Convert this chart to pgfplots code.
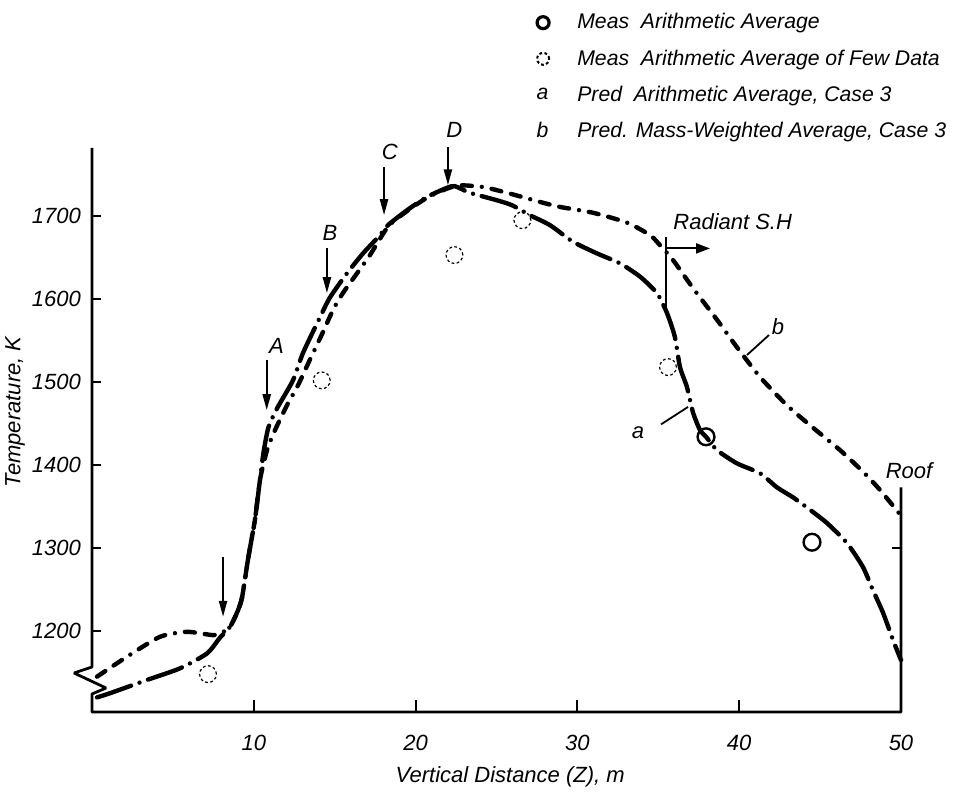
\documentclass[border=0pt]{standalone}
\usepackage{fontspec}
\setmainfont{Liberation Sans}
\usepackage{pgfplots}
\pgfplotsset{compat=1.18}
\usetikzlibrary{arrows.meta}
\begin{document}
\begin{tikzpicture}[font=\fontsize{11}{13}\selectfont\itshape]
\useasboundingbox (-46pt,-43pt) rectangle (431pt,356pt);
\begin{axis}[
  at={(0,0)}, anchor=south west,
  scale only axis, width=404.5pt, height=282pt,
  xmin=0, xmax=50, ymin=1102.4, ymax=1782,
  enlargelimits=false,
  separate axis lines,
  axis line style={draw=none},
  xtick pos=bottom, ytick pos=left,
  clip=false,
  xtick={10,20,30,40,50}, ytick={1200,1300,...,1700},
  tick align=inside,
  xtick style={black, line width=1pt, /pgfplots/major tick length=6pt},
  ytick style={black, line width=1pt, /pgfplots/major tick length=4.5pt},
  /pgf/number format/assume math mode=true,
  /pgf/number format/set thousands separator={},
  ticklabel style={font=\fontsize{11}{13}\selectfont\itshape},
  xticklabel style={yshift=-8pt},
  yticklabel style={xshift=-2pt},
  xlabel={Vertical Distance (Z), m},
  ylabel={Temperature, K},
  xlabel style={at={(axis description cs:0.517,-0.1152)}, anchor=center, font=\fontsize{11}{13}\selectfont\itshape},
  ylabel style={at={(axis description cs:-0.0952,0.532)}, anchor=center, font=\fontsize{11}{13}\selectfont\itshape},
  legend style={draw=none, fill=none, at={(axis description cs:0.5371,1.2463)}, anchor=north west,
    legend cell align=left, row sep=4.9pt, inner sep=0pt, font=\fontsize{10.6}{12.6}\selectfont\itshape,
    /tikz/every odd column/.append style={column sep=6pt}},
]
% measured arithmetic average
\addplot[only marks, mark=o, mark size=4.2pt, mark options={line width=1.2pt, black},
  legend image code/.code={\path (-7pt,0) (8pt,0); \draw[line width=1.6pt] (0cm,0) circle (3pt);}]
  coordinates {(37.95,1434) (44.5,1307)};
\addlegendentry{Meas\ \ Arithmetic Average}
% measured, few data
\addplot[only marks, mark=o, mark size=4.2pt, mark options={line width=0.6pt, black, dash pattern=on 1.4pt off 1.2pt},
  legend image code/.code={\path (-7pt,0) (8pt,0); \draw[line width=1pt, dash pattern=on 1.4pt off 1.2pt] (0cm,0) circle (3pt);}]
  coordinates {(7.17,1148) (14.2,1502) (22.4,1653) (26.6,1695) (35.6,1518)};
\addlegendentry{Meas\ \ Arithmetic Average of Few Data}
% curve a
\addplot[black, line width=2.2pt, line cap=round, smooth, tension=0.4,
  dash pattern=on 18pt off 4.5pt on 0pt off 4.5pt,
  legend image code/.code={\path (-7pt,0) (8pt,0); \node[inner sep=0pt, font=\fontsize{10.6}{12.6}\selectfont\itshape] at (-4.3pt,0) {a};}]
  coordinates {(0.31,1120) (1.11,1125) (3.40,1141) (5.44,1155) (7.11,1173) (7.91,1192) (8.53,1205) (8.96,1222) (9.27,1240) (9.64,1286) (10.07,1334) (10.38,1382) (10.6,1415) (10.9,1445) (11.43,1468) (12.42,1502) (13.04,1535) (14.09,1578) (14.71,1602) (15.76,1631) (16.75,1655) (17.80,1677) (18.29,1689) (19.47,1707) (20.70,1723) (21.94,1734) (22.43,1736) (23.36,1728) (25.03,1719) (25.96,1713) (27.07,1701) (28.31,1689) (29.73,1669) (31.21,1655) (32.63,1643) (33.87,1627) (34.92,1607) (35.54,1583) (36.03,1554) (36.34,1518) (36.77,1494) (37.15,1463) (37.58,1442) (37.95,1434) (38.63,1418) (39.86,1402) (41.29,1390) (42.34,1373) (43.33,1361) (44.38,1346) (45.43,1330) (46.66,1306) (47.65,1277) (48.27,1249) (48.89,1222) (49.51,1189) (50.0,1165)};
\addlegendentry{Pred\ \ Arithmetic Average, Case 3}
% curve b
\addplot[black, line width=2.2pt, line cap=round, smooth, tension=0.4,
  dash pattern=on 5pt off 5pt on 5pt off 5pt on 0pt off 5pt,
  legend image code/.code={\path (-7pt,0) (8pt,0); \node[inner sep=0pt, font=\fontsize{10.6}{12.6}\selectfont\itshape] at (-4.3pt,0) {b};}]
  coordinates {(0.31,1145) (2.16,1169) (4.20,1193) (5.87,1199) (7.48,1195) (8.03,1198) (8.53,1205) (8.96,1222) (9.27,1240) (9.64,1286) (10.07,1334) (10.38,1382) (10.82,1418) (11.31,1442) (12.05,1472) (12.73,1496) (13.47,1527) (14.2,1557) (14.9,1587) (15.5,1607) (16.38,1631) (17.18,1653) (18.29,1687) (19.47,1706) (20.7,1722) (21.94,1733) (22.74,1737) (24.17,1735) (25.65,1728) (27.69,1717) (28.92,1711) (30.96,1704) (33.07,1692) (34.49,1677) (35.1,1665) (35.91,1647) (37.15,1613) (38.63,1575) (39.86,1542) (41.29,1506) (42.95,1472) (44.56,1445) (46.23,1418) (47.65,1392) (48.7,1370) (50.0,1339)};
\addlegendentry{Pred. Mass-Weighted Average, Case 3}

% axis frame with break
\draw[line width=1.4pt, line join=bevel] (axis cs:0,1782) -- (axis cs:0,1156.6) -- (axis cs:-1.11,1149.4) -- (axis cs:0.87,1131.3) -- (axis cs:0,1124.1) -- (axis cs:0,1102.4) -- (axis cs:50,1102.4) -- (axis cs:50,1373);
\draw[line width=1pt] (axis cs:50,1300) -- ++(-4.5pt,0pt);
% arrows
\tikzset{downarr/.style={line width=1.1pt, -{Triangle[length=8pt,width=4pt]}}}
\draw[downarr] (axis cs:8.1,1289) -- (axis cs:8.1,1217);
\draw[downarr] (axis cs:10.8,1526) -- (axis cs:10.8,1466);
\draw[downarr] (axis cs:14.52,1661) -- (axis cs:14.52,1607);
\draw[downarr] (axis cs:18.05,1759) -- (axis cs:18.05,1701);
\draw[downarr] (axis cs:22.0,1783) -- (axis cs:22.0,1737);
\node at (axis cs:11.4,1543) {A};
\node at (axis cs:14.7,1680) {B};
\node at (axis cs:18.4,1777) {C};
\node at (axis cs:22.4,1804) {D};
% Radiant S.H
\draw[line width=1pt] (axis cs:35.5,1675) -- (axis cs:35.5,1587);
\draw[line width=1pt, -{Triangle[length=7pt,width=5pt]}] (axis cs:35.5,1661) -- (axis cs:38.2,1661);
\node at (axis cs:39.6,1693) {Radiant S.H};
\node at (axis cs:50.5,1393) {Roof};
% a, b labels
\draw[line width=0.9pt] (axis cs:35.17,1449) -- (axis cs:36.84,1470);
\node at (axis cs:33.75,1438.6) {a};
\draw[line width=0.9pt] (axis cs:40.48,1532.5) -- (axis cs:41.84,1556.6);
\node at (axis cs:42.4,1567) {b};
\end{axis}
\end{tikzpicture}
\end{document}
